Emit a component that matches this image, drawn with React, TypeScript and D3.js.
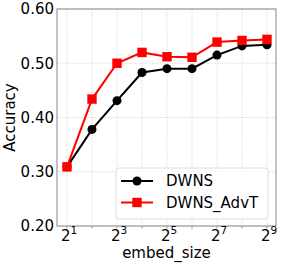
import React, { useEffect, useRef } from 'react';
import * as d3 from 'd3';

const exponents = [1, 2, 3, 4, 5, 6, 7, 8, 9];
const dwns = [0.309, 0.378, 0.431, 0.483, 0.49, 0.49, 0.515, 0.532, 0.534];
const dwnsAdvT = [0.309, 0.434, 0.5, 0.52, 0.512, 0.511, 0.539, 0.542, 0.544];
const yTicks = [0.2, 0.3, 0.4, 0.5, 0.6];
const xLabelTicks = [1, 3, 5, 7, 9];

export default function App() {
  const ref = useRef<SVGSVGElement>(null);

  useEffect(() => {
    const width = 281;
    const height = 265;
    const margin = { top: 9, right: 5, bottom: 39, left: 57 };
    const font = 'DejaVu Sans, sans-serif';

    const svg = d3.select(ref.current);
    svg.selectAll('*').remove();
    svg.attr('width', width).attr('height', height);

    const x = d3.scaleLinear().domain([0.6, 9.36]).range([margin.left, width - margin.right]);
    const y = d3.scaleLinear().domain([0.2, 0.6]).range([height - margin.bottom, margin.top]);

    // grid
    const grid = svg.append('g');
    grid.selectAll('line.v')
      .data(exponents)
      .enter()
      .append('line')
      .attr('x1', d => x(d)).attr('x2', d => x(d))
      .attr('y1', y(0.2)).attr('y2', y(0.6))
      .attr('stroke', '#d8d8d8').attr('stroke-width', 0.8).attr('stroke-dasharray', '1.5,1');
    grid.selectAll('line.h')
      .data(yTicks)
      .enter()
      .append('line')
      .attr('x1', x(0.6)).attr('x2', x(9.36))
      .attr('y1', d => y(d)).attr('y2', d => y(d))
      .attr('stroke', '#d8d8d8').attr('stroke-width', 0.8).attr('stroke-dasharray', '1.5,1');

    // frame
    svg.append('rect')
      .attr('x', margin.left).attr('y', margin.top)
      .attr('width', width - margin.left - margin.right)
      .attr('height', height - margin.top - margin.bottom)
      .attr('fill', 'none').attr('stroke', '#999').attr('stroke-width', 1.2);

    // ticks
    svg.append('g').selectAll('line')
      .data(exponents)
      .enter()
      .append('line')
      .attr('x1', d => x(d)).attr('x2', d => x(d))
      .attr('y1', y(0.2)).attr('y2', y(0.2) + 2.5)
      .attr('stroke', '#999');

    // y tick labels
    svg.append('g').selectAll('text')
      .data(yTicks)
      .enter()
      .append('text')
      .attr('x', margin.left - 3)
      .attr('y', d => y(d))
      .attr('dy', '0.36em')
      .attr('text-anchor', 'end')
      .style('font-family', font)
      .style('font-size', '15px')
      .text(d => d.toFixed(2));

    // x tick labels 2^n
    const xl = svg.append('g').selectAll('text')
      .data(xLabelTicks)
      .enter()
      .append('text')
      .attr('x', d => x(d) + 2)
      .attr('y', y(0.2) + 15)
      .attr('text-anchor', 'middle')
      .style('font-family', font)
      .style('font-size', '15px');
    xl.append('tspan').text('2');
    xl.append('tspan').attr('dy', -7).style('font-size', '10.5px').text(d => String(d));

    // axis labels
    svg.append('text')
      .attr('x', (margin.left + width - margin.right) / 2)
      .attr('y', 258)
      .attr('text-anchor', 'middle')
      .style('font-family', font)
      .style('font-size', '15px')
      .text('embed_size');

    svg.append('text')
      .attr('transform', `translate(15, ${(y(0.2) + y(0.6)) / 2}) rotate(-90)`)
      .attr('text-anchor', 'middle')
      .style('font-family', font)
      .style('font-size', '15px')
      .text('Accuracy');

    const series = [
      { name: 'DWNS', values: dwns, color: 'black', marker: 'circle' },
      { name: 'DWNS_AdvT', values: dwnsAdvT, color: 'red', marker: 'square' },
    ];

    const line = d3.line<number>()
      .x((_, i) => x(exponents[i]))
      .y(d => y(d));

    series.forEach(s => {
      const g = svg.append('g');
      g.append('path')
        .datum(s.values)
        .attr('d', line)
        .attr('fill', 'none')
        .attr('stroke', s.color)
        .attr('stroke-width', 2);
      if (s.marker === 'circle') {
        g.selectAll('circle')
          .data(s.values)
          .enter()
          .append('circle')
          .attr('cx', (_, i) => x(exponents[i]))
          .attr('cy', d => y(d))
          .attr('r', 4.5)
          .attr('fill', s.color);
      } else {
        g.selectAll('rect')
          .data(s.values)
          .enter()
          .append('rect')
          .attr('x', (_, i) => x(exponents[i]) - 4.7)
          .attr('y', d => y(d) - 4.7)
          .attr('width', 9.4)
          .attr('height', 9.4)
          .attr('fill', s.color);
      }
    });

    // legend
    const lg = svg.append('g');
    lg.append('rect')
      .attr('x', 116).attr('y', 168)
      .attr('width', 152).attr('height', 51)
      .attr('rx', 3)
      .attr('fill', 'rgba(255,255,255,0.85)')
      .attr('stroke', '#dcdcdc');
    series.forEach((s, i) => {
      const cy = 181 + i * 21.5;
      lg.append('line')
        .attr('x1', 121).attr('x2', 153)
        .attr('y1', cy).attr('y2', cy)
        .attr('stroke', s.color).attr('stroke-width', 2);
      if (s.marker === 'circle') {
        lg.append('circle').attr('cx', 137).attr('cy', cy).attr('r', 4.5).attr('fill', s.color);
      } else {
        lg.append('rect').attr('x', 137 - 4.7).attr('y', cy - 4.7)
          .attr('width', 9.4).attr('height', 9.4).attr('fill', s.color);
      }
      lg.append('text')
        .attr('x', 166).attr('y', cy)
        .attr('dy', '0.36em')
        .style('font-family', font)
        .style('font-size', '15px')
        .text(s.name);
    });
  }, []);

  return <svg ref={ref} style={{ position: 'absolute', left: 0, top: 0 }} />;
}
